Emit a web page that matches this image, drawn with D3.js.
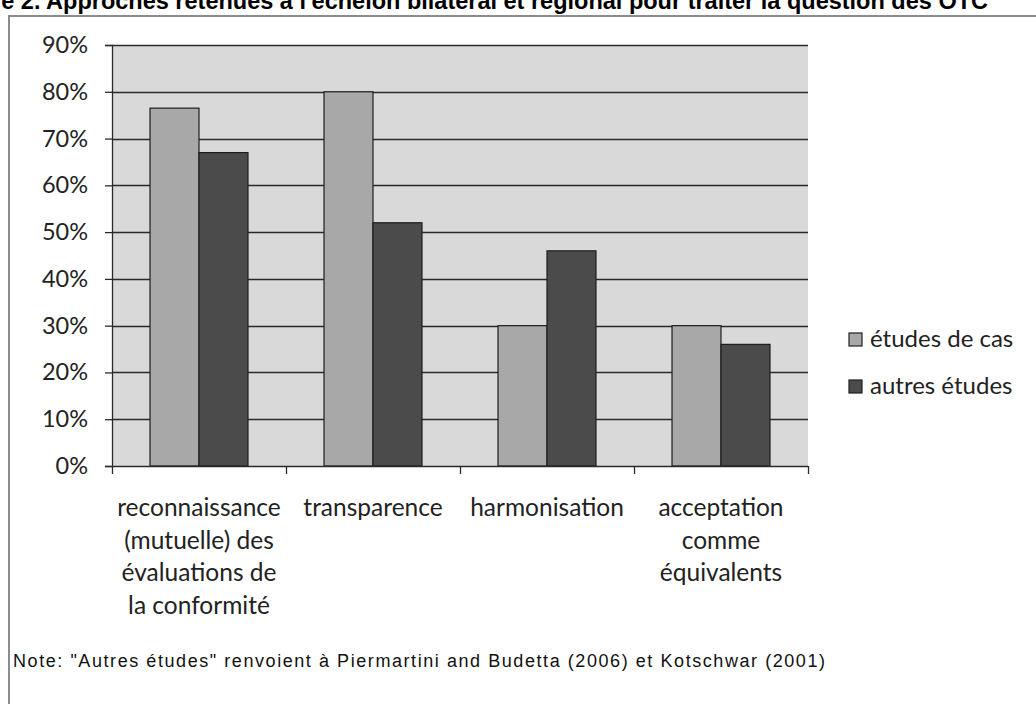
<!DOCTYPE html>
<html>
<head>
<meta charset="utf-8">
<script src="https://cdn.jsdelivr.net/npm/d3@7"></script>
<style>
  html, body { margin: 0; padding: 0; background: #fff; overflow: hidden; }
  svg { display: block; }
</style>
</head>
<body>
<svg id="chart" width="1036" height="704"></svg>
<script>
// Approaches retained at bilateral / regional level for TBT issues
const categories = [
  ["reconnaissance", "(mutuelle) des", "évaluations de", "la conformité"],
  ["transparence"],
  ["harmonisation"],
  ["acceptation", "comme", "équivalents"]
];
const categoryKeys = ["reconnaissance", "transparence", "harmonisation", "acceptation"];
const seriesNames = ["études de cas", "autres études"];
const etudesDeCas = [0.765, 0.80, 0.30, 0.30];
const autresEtudes = [0.67, 0.52, 0.46, 0.26];
const yTicks = [0, 0.1, 0.2, 0.3, 0.4, 0.5, 0.6, 0.7, 0.8, 0.9];
const titleText = "Figure 2. Approches retenues à l'échelon bilatéral et régional pour traiter la question des OTC";
const noteText = "Note:  \"Autres études\" renvoient à Piermartini and Budetta (2006) et Kotschwar (2001)";

const colors = ["#a8a8a8", "#4b4b4b"];
const labelFont = "Lato, 'Open Sans', sans-serif";

const svg = d3.select("#chart");

const plot = { left: 112, right: 808, top: 45, bottom: 466 };

const x = d3.scaleBand().domain(categoryKeys).range([plot.left, plot.right]).padding(0);
const xs = d3.scaleBand().domain(seriesNames).range([0, x.bandwidth()])
  .paddingInner(0).paddingOuter(0.776);
const y = d3.scaleLinear().domain([0, 0.9]).range([plot.bottom, plot.top]);

// title (runs off the top-left edge)
svg.append("text")
  .attr("x", 988).attr("y", 8.5)
  .attr("text-anchor", "end")
  .attr("font-family", "'Liberation Sans', Arial, sans-serif")
  .attr("font-weight", "bold")
  .attr("font-size", 23.5)
  .attr("fill", "#000")
  .text(titleText);

// outer frame (top and left edges)
svg.append("path")
  .attr("d", "M9,704 V16 H1036")
  .attr("fill", "none")
  .attr("stroke", "#8c8c8c")
  .attr("stroke-width", 2);

// plot background
svg.append("rect")
  .attr("x", plot.left).attr("y", plot.top)
  .attr("width", plot.right - plot.left).attr("height", plot.bottom - plot.top)
  .attr("fill", "#d9d9d9");

// gridlines
svg.append("g")
  .selectAll("line")
  .data(yTicks.filter(d => d > 0))
  .join("line")
  .attr("x1", plot.left).attr("x2", plot.right)
  .attr("y1", d => Math.round(y(d)) + 0.5).attr("y2", d => Math.round(y(d)) + 0.5)
  .attr("stroke", "#2a2a2a")
  .attr("stroke-width", 1.3);

// bars
const series = [etudesDeCas, autresEtudes];
const groups = svg.append("g").selectAll("g")
  .data(categoryKeys)
  .join("g")
  .attr("transform", d => `translate(${x(d)},0)`);

groups.selectAll("rect")
  .data((d, i) => seriesNames.map((s, j) => ({ s, v: series[j][i], j })))
  .join("rect")
  .attr("x", d => xs(d.s))
  .attr("width", xs.bandwidth())
  .attr("y", d => y(d.v))
  .attr("height", d => y(0) - y(d.v))
  .attr("fill", d => colors[d.j])
  .attr("stroke", "#1e1e1e")
  .attr("stroke-width", 1.2);

// y axis
const yAxis = d3.axisLeft(y).tickValues(yTicks).tickFormat(d3.format(".0%"))
  .tickSize(7).tickPadding(17);
const gy = svg.append("g").attr("transform", `translate(${plot.left},0)`).call(yAxis);
gy.select(".domain").attr("stroke", "#2a2a2a").attr("stroke-width", 1.3);
gy.selectAll(".tick line").attr("stroke", "#2a2a2a").attr("stroke-width", 1.3);
gy.selectAll(".tick text")
  .attr("font-family", labelFont).attr("font-size", 23.5).attr("fill", "#222");

// x axis
const xEdges = d3.axisBottom(d3.scaleLinear().domain([0, 4]).range([plot.left, plot.right]))
  .tickValues([0, 1, 2, 3, 4]).tickSize(8).tickFormat("");
const gx = svg.append("g").attr("transform", `translate(0,${plot.bottom})`).call(xEdges);
gx.select(".domain").attr("stroke", "#2a2a2a").attr("stroke-width", 1.3).attr("d", `M${plot.left},0.5H${plot.right}`);
gx.selectAll(".tick line").attr("stroke", "#2a2a2a").attr("stroke-width", 1.3);

// category labels
const labels = svg.append("g").selectAll("text")
  .data(categoryKeys)
  .join("text")
  .attr("x", d => x(d) + x.bandwidth() / 2)
  .attr("y", 516)
  .attr("text-anchor", "middle")
  .attr("font-family", labelFont)
  .attr("font-size", 24.5)
  .attr("fill", "#222");
labels.selectAll("tspan")
  .data((d, i) => categories[i])
  .join("tspan")
  .attr("x", function () { return this.parentNode.getAttribute("x"); })
  .attr("dy", (d, i) => i === 0 ? 0 : 32.5)
  .text(d => d);

// legend
const legend = svg.append("g").selectAll("g")
  .data(seriesNames)
  .join("g")
  .attr("transform", (d, i) => `translate(849,${333 + i * 47})`);
legend.append("rect")
  .attr("width", 13).attr("height", 13)
  .attr("fill", (d, i) => colors[i])
  .attr("stroke", "#1e1e1e").attr("stroke-width", 1.2);
legend.append("text")
  .attr("x", 21).attr("y", 14)
  .attr("font-family", labelFont).attr("font-size", 24).attr("fill", "#222")
  .text(d => d);

// note
svg.append("text")
  .attr("x", 13).attr("y", 667)
  .attr("font-family", "'Liberation Sans', Arial, sans-serif")
  .attr("font-size", 18)
  .attr("textLength", 812)
  .attr("lengthAdjust", "spacing")
  .attr("fill", "#111")
  .text(noteText);
</script>
</body>
</html>
